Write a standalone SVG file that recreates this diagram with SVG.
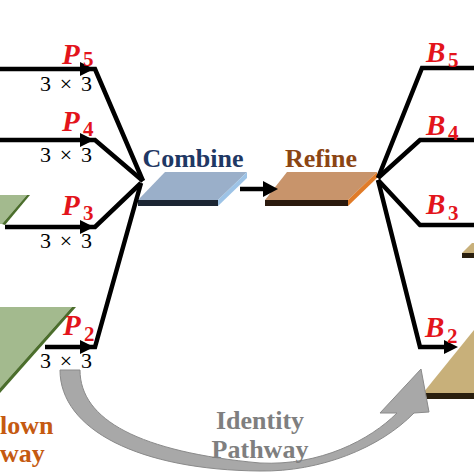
<svg xmlns="http://www.w3.org/2000/svg" width="474" height="474" viewBox="0 0 474 474">
<style>
.ln{fill:none;stroke:#000;stroke-width:4.5;stroke-linejoin:miter}
.ah{fill:#000}
.pl{font-family:"Liberation Serif",serif;font-weight:bold;font-style:italic;font-size:29px;fill:#e3141b}
.sb{font-family:"Liberation Serif",serif;font-weight:bold;font-size:21px;fill:#e3141b}
.k{font-family:"Liberation Serif",serif;font-size:22px;fill:#000}
.tt{font-family:"Liberation Serif",serif;font-weight:bold;font-size:26px}
</style>
<rect width="474" height="474" fill="#fff"/>
<g id="green-top">
<polygon points="0,195 27,195 2,224 0,224" fill="#a3ba8e"/>
<polygon points="27,195 30,195 5,225 2,224" fill="#4b6e2c"/>
</g>
<g id="green-bottom">
<polygon points="0,307 72,307 0,388" fill="#a3ba8e"/>
<polygon points="72,307 76,307 0,393 0,388" fill="#4b6e2c"/>
</g>
<g id="tan-top">
<polygon points="462,253 472,243 474,243 474,253" fill="#c8b07a"/>
<rect x="462" y="253" width="12" height="5" fill="#2a1f0e"/>
</g>
<g id="tan-bottom">
<polygon points="423,393 474,330 474,393" fill="#c8b07a"/>
<polygon points="424,393 474,393 474,399 427,399" fill="#2a1f0e"/>
</g>
<g id="combine">
<polygon points="165,172 247,172 218,200 138,200" fill="#9aafc9"/>
<polygon points="138,200 218,200 218,206 138,206" fill="#1c2633"/>
<polygon points="218,200 247,172 247,178 218,206" fill="#9dc3e6"/>
<text class="tt" x="193" y="167" text-anchor="middle" fill="#1f3864">Combine</text>
</g>
<g id="refine">
<polygon points="287,172 377,172 348,200 265,200" fill="#c8946b"/>
<polygon points="265,200 348,200 348,206 265,206" fill="#2b1a0e"/>
<polygon points="348,200 377,172 377,178 348,206" fill="#e07b28"/>
<text class="tt" x="321" y="167" text-anchor="middle" fill="#8b4513">Refine</text>
</g>
<g id="identity-pathway">
<path d="M60,370 L80,370 C80,420 140,452 260,463 C320,466 370,440 397,413 L380,413 L421,369 L429,412 L414,413 C380,448 320,472 260,471 C140,470 60,430 60,370 Z" fill="#a8a8a8" stroke="#8a8a8a" stroke-width="1"/>
<text class="tt" x="260" y="429" text-anchor="middle" fill="#7f7f7f">Identity</text>
<text class="tt" x="260" y="458" text-anchor="middle" fill="#7f7f7f">Pathway</text>
</g>
<g id="connectors">
<polyline class="ln" points="0,69 95,69 143,181"/>
<polyline class="ln" points="0,140 95,140 143,181"/>
<polyline class="ln" points="5,227 95,227 141,183"/>
<polyline class="ln" points="45,347 95,347 141,183"/>
<polygon class="ah" points="80,62 94,69 80,76"/>
<polygon class="ah" points="80,133 94,140 80,147"/>
<polygon class="ah" points="80,220 94,227 80,234"/>
<polygon class="ah" points="80,340 94,347 80,354"/>
<line class="ln" x1="240" y1="189" x2="265" y2="189" stroke-width="5"/>
<polygon class="ah" points="263,181 278,189 263,197"/>
<polyline class="ln" points="474,68 422,68 378,178"/>
<polyline class="ln" points="474,140 420,140 378,178"/>
<polyline class="ln" points="474,225 420,225 378,180"/>
<polyline class="ln" points="445,347 420,347 378,180"/>
<polygon class="ah" points="444,340 458,347 444,354"/>
</g>
<g id="labels">
<text class="pl" x="62" y="64">P</text><text class="sb" x="83" y="66">5</text>
<text class="pl" x="62" y="131">P</text><text class="sb" x="83" y="136">4</text>
<text class="pl" x="62" y="215">P</text><text class="sb" x="83" y="220">3</text>
<text class="pl" x="63" y="335">P</text><text class="sb" x="84" y="341">2</text>
<text class="k" x="40" y="91" textLength="52" lengthAdjust="spacing">3 × 3</text>
<text class="k" x="40" y="162" textLength="52" lengthAdjust="spacing">3 × 3</text>
<text class="k" x="40" y="248" textLength="52" lengthAdjust="spacing">3 × 3</text>
<text class="k" x="40" y="368" textLength="52" lengthAdjust="spacing">3 × 3</text>
<text class="pl" x="426" y="62">B</text><text class="sb" x="448" y="67">5</text>
<text class="pl" x="426" y="135">B</text><text class="sb" x="448" y="140">4</text>
<text class="pl" x="426" y="214">B</text><text class="sb" x="448" y="220">3</text>
<text class="pl" x="425" y="337">B</text><text class="sb" x="447" y="343">2</text>
<text class="tt" x="0" y="434" fill="#c55a11">lown</text>
<text class="tt" x="0" y="462" fill="#c55a11">way</text>
</g>
</svg>
